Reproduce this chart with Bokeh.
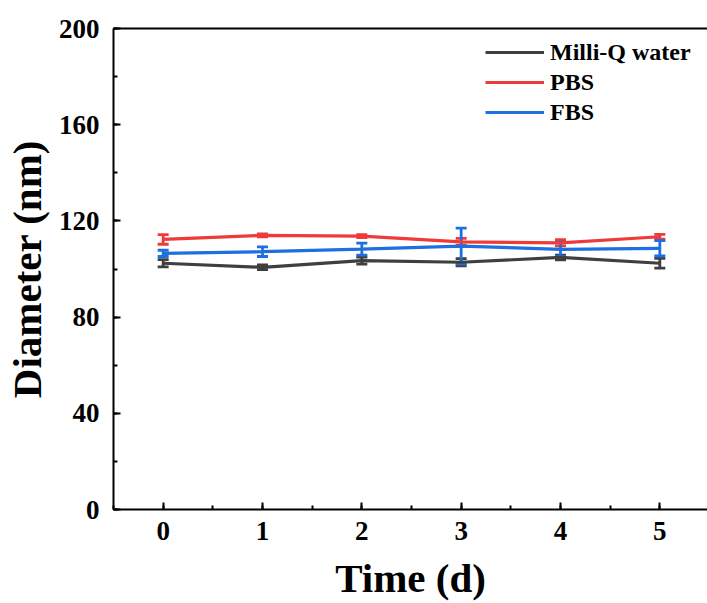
from bokeh.plotting import figure
from bokeh.models import (ColumnDataSource, Whisker, TeeHead, LinearAxis, FixedTicker,
                          SingleIntervalTicker, Range1d, Legend, LegendItem)
from bokeh.embed import file_html
from bokeh.resources import INLINE

days = [0, 1, 2, 3, 4, 5]
water = [102.4, 100.7, 103.5, 102.8, 104.8, 102.4]
water_err = [1.5, 1.0, 1.5, 1.5, 1.0, 2.0]
pbs = [112.3, 114.0, 113.7, 111.3, 110.9, 113.4]
pbs_err = [2.0, 0.6, 0.6, 1.4, 1.3, 1.0]
fbs = [106.5, 107.2, 108.3, 109.5, 108.2, 108.6]
fbs_err = [1.3, 2.0, 2.5, 7.5, 3.0, 3.2]

series = [("Milli-Q water", water, water_err, "#3f3f3f"),
          ("PBS", pbs, pbs_err, "#ef3a3a"),
          ("FBS", fbs, fbs_err, "#1e6fe0")]

FONT = "Liberation Serif"

p = figure(width=707, height=603, output_backend="svg", toolbar_location=None,
           x_range=Range1d(-0.5, 5.48), y_range=Range1d(0, 200),
           min_border_left=111, min_border_right=0, min_border_top=28, min_border_bottom=93)
p.outline_line_color = None
p.grid.visible = False
p.background_fill_color = "white"
p.border_fill_color = "white"

items = []
for name, vals, errs, col in series:
    src = ColumnDataSource(dict(x=days, y=vals,
                                lo=[v - e for v, e in zip(vals, errs)],
                                hi=[v + e for v, e in zip(vals, errs)]))
    r = p.line("x", "y", source=src, line_color=col, line_width=3.2)
    w = Whisker(base="x", upper="hi", lower="lo", source=src, line_color=col, line_width=2.8,
                upper_head=TeeHead(size=11, line_color=col, line_width=2.8),
                lower_head=TeeHead(size=11, line_color=col, line_width=2.8))
    p.add_layout(w)
    items.append(LegendItem(label=name, renderers=[r]))

p.xaxis.ticker = SingleIntervalTicker(interval=1, num_minor_ticks=2)
p.yaxis.ticker = SingleIntervalTicker(interval=40, num_minor_ticks=2)
for ax in (p.xaxis[0], p.yaxis[0]):
    ax.axis_line_width = 2
    ax.major_tick_line_width = 2
    ax.minor_tick_line_width = 2
    ax.major_tick_in = 7
    ax.major_tick_out = 0
    ax.minor_tick_in = 4
    ax.minor_tick_out = 0
    ax.major_label_text_font = FONT
    ax.major_label_text_font_style = "bold"
    ax.major_label_text_font_size = "27px"
    ax.major_label_text_color = "black"
    ax.axis_label_text_font = FONT
    ax.axis_label_text_font_style = "bold"
    ax.axis_label_text_font_size = "41px"
    ax.axis_label_text_color = "black"
p.xaxis.axis_label = "Time (d)"
p.yaxis.axis_label = "Diameter (nm)"
p.xaxis.major_label_standoff = 12
p.yaxis.major_label_standoff = 14
p.xaxis.axis_label_standoff = 12
p.yaxis.axis_label_standoff = 6

top = LinearAxis(ticker=FixedTicker(ticks=[]), axis_line_width=2,
                 major_tick_in=0, major_tick_out=0, minor_tick_in=0, minor_tick_out=0,
                 major_label_text_font_size="0px", major_label_standoff=0)
p.add_layout(top, "above")

legend = Legend(items=items, location=(372, 382), padding=0, margin=0, spacing=0,
                glyph_width=59, glyph_height=30, label_height=30, label_standoff=6,
                border_line_color=None, background_fill_alpha=0,
                label_text_font=FONT, label_text_font_style="bold",
                label_text_font_size="24px", label_text_color="black")
p.add_layout(legend, "center")

open("out.html", "w").write(file_html(p, INLINE))
